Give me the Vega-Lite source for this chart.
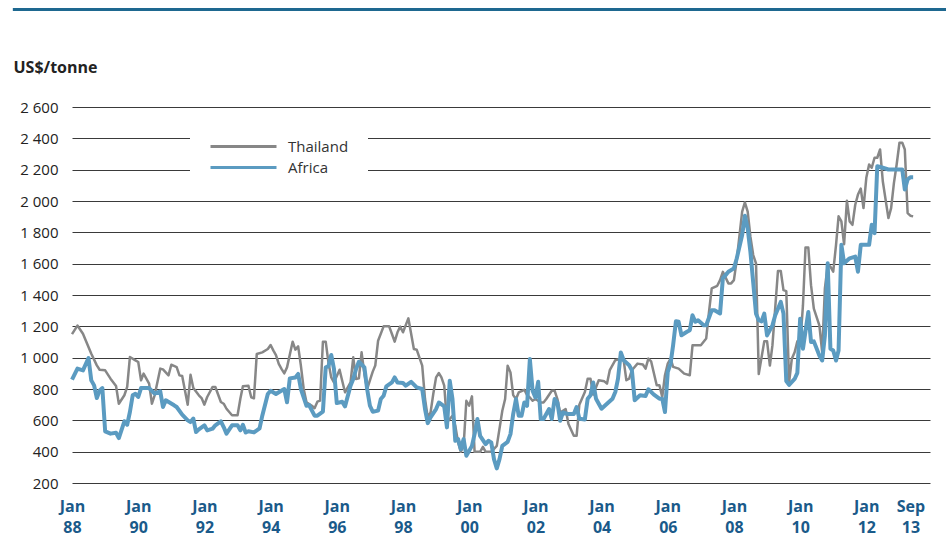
{
 "$schema": "https://vega.github.io/schema/vega-lite/v6.json",
 "width": 858,
 "height": 376,
 "autosize": {"type": "none"},
 "padding": {"left": 72, "top": 107, "right": 16, "bottom": 58},
 "background": "white",
 "config": {"view": {"stroke": null}, "font": "Open Sans"},
 "data": {"values": [
{"d":"1988-01","s":"Thailand","v":1150},{"d":"1988-03","s":"Thailand","v":1205},{"d":"1988-05","s":"Thailand","v":1153},{"d":"1988-06","s":"Thailand","v":1110},{"d":"1988-08","s":"Thailand","v":1025},{"d":"1988-10","s":"Thailand","v":951},{"d":"1988-11","s":"Thailand","v":923},
{"d":"1989-01","s":"Thailand","v":919},{"d":"1989-03","s":"Thailand","v":866},{"d":"1989-05","s":"Thailand","v":819},{"d":"1989-06","s":"Thailand","v":706},{"d":"1989-08","s":"Thailand","v":760},{"d":"1989-09","s":"Thailand","v":813},{"d":"1989-10","s":"Thailand","v":1004},{"d":"1989-12","s":"Thailand","v":983},
{"d":"1990-01","s":"Thailand","v":972},{"d":"1990-02","s":"Thailand","v":855},{"d":"1990-03","s":"Thailand","v":898},{"d":"1990-05","s":"Thailand","v":834},{"d":"1990-06","s":"Thailand","v":706},{"d":"1990-07","s":"Thailand","v":760},{"d":"1990-09","s":"Thailand","v":930},{"d":"1990-10","s":"Thailand","v":925},{"d":"1990-12","s":"Thailand","v":887},
{"d":"1991-01","s":"Thailand","v":955},{"d":"1991-03","s":"Thailand","v":940},{"d":"1991-04","s":"Thailand","v":887},{"d":"1991-05","s":"Thailand","v":883},{"d":"1991-07","s":"Thailand","v":700},{"d":"1991-08","s":"Thailand","v":891},{"d":"1991-09","s":"Thailand","v":806},{"d":"1991-11","s":"Thailand","v":760},{"d":"1991-12","s":"Thailand","v":742},
{"d":"1992-01","s":"Thailand","v":700},{"d":"1992-02","s":"Thailand","v":749},{"d":"1992-04","s":"Thailand","v":813},{"d":"1992-05","s":"Thailand","v":813},{"d":"1992-07","s":"Thailand","v":717},{"d":"1992-08","s":"Thailand","v":706},{"d":"1992-09","s":"Thailand","v":674},{"d":"1992-11","s":"Thailand","v":632},
{"d":"1993-01","s":"Thailand","v":632},{"d":"1993-02","s":"Thailand","v":738},{"d":"1993-03","s":"Thailand","v":817},{"d":"1993-05","s":"Thailand","v":821},{"d":"1993-06","s":"Thailand","v":747},{"d":"1993-07","s":"Thailand","v":740},{"d":"1993-08","s":"Thailand","v":1023},{"d":"1993-10","s":"Thailand","v":1034},{"d":"1993-12","s":"Thailand","v":1055},
{"d":"1994-01","s":"Thailand","v":1081},{"d":"1994-02","s":"Thailand","v":1045},{"d":"1994-03","s":"Thailand","v":1017},{"d":"1994-04","s":"Thailand","v":960},{"d":"1994-05","s":"Thailand","v":928},{"d":"1994-06","s":"Thailand","v":900},{"d":"1994-07","s":"Thailand","v":938},{"d":"1994-09","s":"Thailand","v":1102},{"d":"1994-10","s":"Thailand","v":1051},{"d":"1994-11","s":"Thailand","v":1072},{"d":"1994-12","s":"Thailand","v":949},
{"d":"1995-01","s":"Thailand","v":800},{"d":"1995-02","s":"Thailand","v":715},{"d":"1995-04","s":"Thailand","v":693},{"d":"1995-05","s":"Thailand","v":677},{"d":"1995-06","s":"Thailand","v":719},{"d":"1995-07","s":"Thailand","v":726},{"d":"1995-08","s":"Thailand","v":1102},{"d":"1995-09","s":"Thailand","v":1102},{"d":"1995-10","s":"Thailand","v":970},{"d":"1995-11","s":"Thailand","v":874},{"d":"1995-12","s":"Thailand","v":842},
{"d":"1996-02","s":"Thailand","v":923},{"d":"1996-03","s":"Thailand","v":853},{"d":"1996-04","s":"Thailand","v":779},{"d":"1996-06","s":"Thailand","v":842},{"d":"1996-07","s":"Thailand","v":1002},{"d":"1996-08","s":"Thailand","v":864},{"d":"1996-09","s":"Thailand","v":868},{"d":"1996-10","s":"Thailand","v":1034},{"d":"1996-11","s":"Thailand","v":896},{"d":"1996-12","s":"Thailand","v":800},
{"d":"1997-02","s":"Thailand","v":911},{"d":"1997-03","s":"Thailand","v":950},{"d":"1997-04","s":"Thailand","v":1108},{"d":"1997-06","s":"Thailand","v":1200},{"d":"1997-08","s":"Thailand","v":1200},{"d":"1997-09","s":"Thailand","v":1151},{"d":"1997-10","s":"Thailand","v":1102},{"d":"1997-11","s":"Thailand","v":1162},{"d":"1997-12","s":"Thailand","v":1198},
{"d":"1998-01","s":"Thailand","v":1162},{"d":"1998-03","s":"Thailand","v":1251},{"d":"1998-05","s":"Thailand","v":1055},{"d":"1998-06","s":"Thailand","v":1051},{"d":"1998-08","s":"Thailand","v":949},{"d":"1998-09","s":"Thailand","v":736},{"d":"1998-10","s":"Thailand","v":619},{"d":"1998-11","s":"Thailand","v":650},{"d":"1998-12","s":"Thailand","v":768},
{"d":"1999-01","s":"Thailand","v":874},{"d":"1999-02","s":"Thailand","v":902},{"d":"1999-03","s":"Thailand","v":874},{"d":"1999-04","s":"Thailand","v":821},{"d":"1999-05","s":"Thailand","v":587},{"d":"1999-07","s":"Thailand","v":629},{"d":"1999-08","s":"Thailand","v":565},{"d":"1999-09","s":"Thailand","v":459},{"d":"1999-10","s":"Thailand","v":399},{"d":"1999-11","s":"Thailand","v":437},{"d":"1999-12","s":"Thailand","v":725},
{"d":"2000-01","s":"Thailand","v":693},{"d":"2000-02","s":"Thailand","v":753},{"d":"2000-03","s":"Thailand","v":399},{"d":"2000-05","s":"Thailand","v":399},{"d":"2000-06","s":"Thailand","v":431},{"d":"2000-07","s":"Thailand","v":399},{"d":"2000-09","s":"Thailand","v":399},{"d":"2000-11","s":"Thailand","v":437},
{"d":"2001-01","s":"Thailand","v":661},{"d":"2001-02","s":"Thailand","v":736},{"d":"2001-03","s":"Thailand","v":949},{"d":"2001-04","s":"Thailand","v":906},{"d":"2001-05","s":"Thailand","v":761},{"d":"2001-06","s":"Thailand","v":736},{"d":"2001-07","s":"Thailand","v":778},{"d":"2001-09","s":"Thailand","v":795},{"d":"2001-10","s":"Thailand","v":761},{"d":"2001-11","s":"Thailand","v":746},{"d":"2001-12","s":"Thailand","v":725},
{"d":"2002-01","s":"Thailand","v":736},{"d":"2002-03","s":"Thailand","v":714},{"d":"2002-04","s":"Thailand","v":714},{"d":"2002-05","s":"Thailand","v":736},{"d":"2002-07","s":"Thailand","v":789},{"d":"2002-08","s":"Thailand","v":789},{"d":"2002-09","s":"Thailand","v":736},{"d":"2002-10","s":"Thailand","v":650},{"d":"2002-12","s":"Thailand","v":672},
{"d":"2003-01","s":"Thailand","v":576},{"d":"2003-03","s":"Thailand","v":501},{"d":"2003-04","s":"Thailand","v":501},{"d":"2003-05","s":"Thailand","v":700},{"d":"2003-07","s":"Thailand","v":781},{"d":"2003-08","s":"Thailand","v":866},{"d":"2003-09","s":"Thailand","v":866},{"d":"2003-10","s":"Thailand","v":764},{"d":"2003-12","s":"Thailand","v":856},
{"d":"2004-02","s":"Thailand","v":849},{"d":"2004-03","s":"Thailand","v":834},{"d":"2004-04","s":"Thailand","v":920},{"d":"2004-06","s":"Thailand","v":984},{"d":"2004-08","s":"Thailand","v":994},{"d":"2004-09","s":"Thailand","v":984},{"d":"2004-10","s":"Thailand","v":856},{"d":"2004-11","s":"Thailand","v":866},{"d":"2004-12","s":"Thailand","v":920},
{"d":"2005-02","s":"Thailand","v":962},{"d":"2005-04","s":"Thailand","v":956},{"d":"2005-05","s":"Thailand","v":930},{"d":"2005-06","s":"Thailand","v":994},{"d":"2005-07","s":"Thailand","v":977},{"d":"2005-09","s":"Thailand","v":824},{"d":"2005-10","s":"Thailand","v":824},{"d":"2005-11","s":"Thailand","v":749},{"d":"2005-12","s":"Thailand","v":888},
{"d":"2006-01","s":"Thailand","v":962},{"d":"2006-02","s":"Thailand","v":994},{"d":"2006-03","s":"Thailand","v":941},{"d":"2006-05","s":"Thailand","v":930},{"d":"2006-07","s":"Thailand","v":898},{"d":"2006-09","s":"Thailand","v":888},{"d":"2006-10","s":"Thailand","v":1079},
{"d":"2007-01","s":"Thailand","v":1079},{"d":"2007-03","s":"Thailand","v":1122},{"d":"2007-04","s":"Thailand","v":1292},{"d":"2007-05","s":"Thailand","v":1442},{"d":"2007-07","s":"Thailand","v":1459},{"d":"2007-08","s":"Thailand","v":1495},{"d":"2007-09","s":"Thailand","v":1548},{"d":"2007-11","s":"Thailand","v":1474},{"d":"2007-12","s":"Thailand","v":1474},
{"d":"2008-01","s":"Thailand","v":1495},{"d":"2008-02","s":"Thailand","v":1623},{"d":"2008-04","s":"Thailand","v":1932},{"d":"2008-05","s":"Thailand","v":1991},{"d":"2008-06","s":"Thailand","v":1932},{"d":"2008-07","s":"Thailand","v":1772},{"d":"2008-08","s":"Thailand","v":1655},{"d":"2008-09","s":"Thailand","v":1602},{"d":"2008-10","s":"Thailand","v":896},{"d":"2008-12","s":"Thailand","v":1104},
{"d":"2009-01","s":"Thailand","v":1104},{"d":"2009-02","s":"Thailand","v":950},{"d":"2009-03","s":"Thailand","v":1078},{"d":"2009-05","s":"Thailand","v":1553},{"d":"2009-06","s":"Thailand","v":1553},{"d":"2009-07","s":"Thailand","v":1431},{"d":"2009-08","s":"Thailand","v":1425},{"d":"2009-09","s":"Thailand","v":843},{"d":"2009-10","s":"Thailand","v":993},{"d":"2009-11","s":"Thailand","v":1035},{"d":"2009-12","s":"Thailand","v":1104},
{"d":"2010-01","s":"Thailand","v":1078},{"d":"2010-02","s":"Thailand","v":1335},{"d":"2010-03","s":"Thailand","v":1703},{"d":"2010-04","s":"Thailand","v":1703},{"d":"2010-05","s":"Thailand","v":1463},{"d":"2010-06","s":"Thailand","v":1313},{"d":"2010-08","s":"Thailand","v":1206},{"d":"2010-09","s":"Thailand","v":1035},{"d":"2010-10","s":"Thailand","v":1442},{"d":"2010-11","s":"Thailand","v":1591},{"d":"2010-12","s":"Thailand","v":1581},
{"d":"2011-01","s":"Thailand","v":1549},{"d":"2011-02","s":"Thailand","v":1720},{"d":"2011-03","s":"Thailand","v":1902},{"d":"2011-04","s":"Thailand","v":1870},{"d":"2011-05","s":"Thailand","v":1724},{"d":"2011-06","s":"Thailand","v":2002},{"d":"2011-07","s":"Thailand","v":1870},{"d":"2011-08","s":"Thailand","v":1848},{"d":"2011-09","s":"Thailand","v":1976},{"d":"2011-10","s":"Thailand","v":2041},{"d":"2011-11","s":"Thailand","v":2079},{"d":"2011-12","s":"Thailand","v":1955},
{"d":"2012-01","s":"Thailand","v":2148},{"d":"2012-02","s":"Thailand","v":2233},{"d":"2012-03","s":"Thailand","v":2212},{"d":"2012-04","s":"Thailand","v":2276},{"d":"2012-05","s":"Thailand","v":2276},{"d":"2012-06","s":"Thailand","v":2329},{"d":"2012-07","s":"Thailand","v":2126},{"d":"2012-09","s":"Thailand","v":1891},{"d":"2012-10","s":"Thailand","v":1955},{"d":"2012-11","s":"Thailand","v":2116},{"d":"2012-12","s":"Thailand","v":2233},
{"d":"2013-01","s":"Thailand","v":2372},{"d":"2013-02","s":"Thailand","v":2372},{"d":"2013-03","s":"Thailand","v":2329},{"d":"2013-04","s":"Thailand","v":1923},{"d":"2013-05","s":"Thailand","v":1906},{"d":"2013-06","s":"Thailand","v":1902},
{"d":"1988-01","s":"Africa","v":860},{"d":"1988-03","s":"Africa","v":930},{"d":"1988-05","s":"Africa","v":919},{"d":"1988-07","s":"Africa","v":998},{"d":"1988-08","s":"Africa","v":855},{"d":"1988-09","s":"Africa","v":823},{"d":"1988-10","s":"Africa","v":742},{"d":"1988-11","s":"Africa","v":791},{"d":"1988-12","s":"Africa","v":806},
{"d":"1989-01","s":"Africa","v":530},{"d":"1989-03","s":"Africa","v":515},{"d":"1989-05","s":"Africa","v":521},{"d":"1989-06","s":"Africa","v":487},{"d":"1989-08","s":"Africa","v":594},{"d":"1989-09","s":"Africa","v":572},{"d":"1989-10","s":"Africa","v":653},{"d":"1989-11","s":"Africa","v":760},{"d":"1989-12","s":"Africa","v":770},
{"d":"1990-01","s":"Africa","v":749},{"d":"1990-02","s":"Africa","v":806},{"d":"1990-05","s":"Africa","v":806},{"d":"1990-07","s":"Africa","v":770},{"d":"1990-09","s":"Africa","v":785},{"d":"1990-10","s":"Africa","v":685},{"d":"1990-11","s":"Africa","v":728},
{"d":"1991-02","s":"Africa","v":696},{"d":"1991-03","s":"Africa","v":685},{"d":"1991-05","s":"Africa","v":636},{"d":"1991-07","s":"Africa","v":600},{"d":"1991-08","s":"Africa","v":589},{"d":"1991-09","s":"Africa","v":611},{"d":"1991-10","s":"Africa","v":525},{"d":"1991-11","s":"Africa","v":542},
{"d":"1992-01","s":"Africa","v":568},{"d":"1992-02","s":"Africa","v":536},{"d":"1992-04","s":"Africa","v":547},{"d":"1992-05","s":"Africa","v":568},{"d":"1992-07","s":"Africa","v":594},{"d":"1992-08","s":"Africa","v":557},{"d":"1992-09","s":"Africa","v":515},{"d":"1992-11","s":"Africa","v":568},
{"d":"1993-01","s":"Africa","v":568},{"d":"1993-02","s":"Africa","v":536},{"d":"1993-03","s":"Africa","v":572},{"d":"1993-04","s":"Africa","v":522},{"d":"1993-05","s":"Africa","v":530},{"d":"1993-07","s":"Africa","v":523},{"d":"1993-09","s":"Africa","v":549},{"d":"1993-10","s":"Africa","v":630},{"d":"1993-12","s":"Africa","v":768},
{"d":"1994-01","s":"Africa","v":789},{"d":"1994-03","s":"Africa","v":768},{"d":"1994-04","s":"Africa","v":779},{"d":"1994-06","s":"Africa","v":800},{"d":"1994-07","s":"Africa","v":715},{"d":"1994-08","s":"Africa","v":868},{"d":"1994-10","s":"Africa","v":874},{"d":"1994-11","s":"Africa","v":896},{"d":"1994-12","s":"Africa","v":800},
{"d":"1995-02","s":"Africa","v":693},{"d":"1995-03","s":"Africa","v":698},{"d":"1995-05","s":"Africa","v":630},{"d":"1995-06","s":"Africa","v":630},{"d":"1995-08","s":"Africa","v":655},{"d":"1995-09","s":"Africa","v":938},{"d":"1995-10","s":"Africa","v":945},{"d":"1995-11","s":"Africa","v":1017},{"d":"1995-12","s":"Africa","v":928},
{"d":"1996-01","s":"Africa","v":710},{"d":"1996-03","s":"Africa","v":719},{"d":"1996-04","s":"Africa","v":689},{"d":"1996-06","s":"Africa","v":821},{"d":"1996-07","s":"Africa","v":864},{"d":"1996-08","s":"Africa","v":928},{"d":"1996-09","s":"Africa","v":974},{"d":"1996-11","s":"Africa","v":938},{"d":"1996-12","s":"Africa","v":800},
{"d":"1997-01","s":"Africa","v":693},{"d":"1997-02","s":"Africa","v":655},{"d":"1997-04","s":"Africa","v":662},{"d":"1997-05","s":"Africa","v":736},{"d":"1997-06","s":"Africa","v":757},{"d":"1997-07","s":"Africa","v":817},{"d":"1997-09","s":"Africa","v":842},{"d":"1997-10","s":"Africa","v":874},{"d":"1997-11","s":"Africa","v":842},
{"d":"1998-01","s":"Africa","v":838},{"d":"1998-02","s":"Africa","v":821},{"d":"1998-04","s":"Africa","v":846},{"d":"1998-06","s":"Africa","v":810},{"d":"1998-08","s":"Africa","v":800},{"d":"1998-09","s":"Africa","v":672},{"d":"1998-10","s":"Africa","v":582},{"d":"1998-11","s":"Africa","v":619},
{"d":"1999-01","s":"Africa","v":672},{"d":"1999-02","s":"Africa","v":714},{"d":"1999-04","s":"Africa","v":689},{"d":"1999-05","s":"Africa","v":555},{"d":"1999-06","s":"Africa","v":853},{"d":"1999-07","s":"Africa","v":736},{"d":"1999-08","s":"Africa","v":469},{"d":"1999-09","s":"Africa","v":480},{"d":"1999-10","s":"Africa","v":416},{"d":"1999-11","s":"Africa","v":480},{"d":"1999-12","s":"Africa","v":374},
{"d":"2000-02","s":"Africa","v":437},{"d":"2000-03","s":"Africa","v":512},{"d":"2000-04","s":"Africa","v":608},{"d":"2000-05","s":"Africa","v":501},{"d":"2000-07","s":"Africa","v":448},{"d":"2000-08","s":"Africa","v":469},{"d":"2000-09","s":"Africa","v":459},{"d":"2000-10","s":"Africa","v":352},{"d":"2000-11","s":"Africa","v":293},{"d":"2000-12","s":"Africa","v":352},
{"d":"2001-01","s":"Africa","v":437},{"d":"2001-03","s":"Africa","v":463},{"d":"2001-04","s":"Africa","v":512},{"d":"2001-05","s":"Africa","v":640},{"d":"2001-06","s":"Africa","v":736},{"d":"2001-07","s":"Africa","v":629},{"d":"2001-08","s":"Africa","v":629},{"d":"2001-09","s":"Africa","v":714},{"d":"2001-10","s":"Africa","v":693},{"d":"2001-11","s":"Africa","v":991},{"d":"2001-12","s":"Africa","v":789},
{"d":"2002-01","s":"Africa","v":746},{"d":"2002-02","s":"Africa","v":846},{"d":"2002-03","s":"Africa","v":608},{"d":"2002-04","s":"Africa","v":608},{"d":"2002-06","s":"Africa","v":672},{"d":"2002-07","s":"Africa","v":608},{"d":"2002-08","s":"Africa","v":736},{"d":"2002-09","s":"Africa","v":714},{"d":"2002-10","s":"Africa","v":597},{"d":"2002-11","s":"Africa","v":650},
{"d":"2003-01","s":"Africa","v":640},{"d":"2003-03","s":"Africa","v":640},{"d":"2003-04","s":"Africa","v":685},{"d":"2003-05","s":"Africa","v":610},{"d":"2003-07","s":"Africa","v":606},{"d":"2003-08","s":"Africa","v":738},{"d":"2003-09","s":"Africa","v":760},{"d":"2003-10","s":"Africa","v":841},{"d":"2003-11","s":"Africa","v":738},
{"d":"2004-01","s":"Africa","v":674},{"d":"2004-03","s":"Africa","v":706},{"d":"2004-05","s":"Africa","v":738},{"d":"2004-06","s":"Africa","v":781},{"d":"2004-07","s":"Africa","v":866},{"d":"2004-08","s":"Africa","v":1033},{"d":"2004-09","s":"Africa","v":984},{"d":"2004-11","s":"Africa","v":952},{"d":"2004-12","s":"Africa","v":920},
{"d":"2005-01","s":"Africa","v":728},{"d":"2005-03","s":"Africa","v":760},{"d":"2005-05","s":"Africa","v":755},{"d":"2005-06","s":"Africa","v":798},{"d":"2005-08","s":"Africa","v":764},{"d":"2005-10","s":"Africa","v":738},{"d":"2005-11","s":"Africa","v":738},{"d":"2005-12","s":"Africa","v":653},
{"d":"2006-01","s":"Africa","v":909},{"d":"2006-02","s":"Africa","v":962},{"d":"2006-03","s":"Africa","v":1079},{"d":"2006-04","s":"Africa","v":1233},{"d":"2006-05","s":"Africa","v":1229},{"d":"2006-06","s":"Africa","v":1143},{"d":"2006-08","s":"Africa","v":1165},{"d":"2006-09","s":"Africa","v":1175},{"d":"2006-10","s":"Africa","v":1271},{"d":"2006-11","s":"Africa","v":1229},{"d":"2006-12","s":"Africa","v":1239},
{"d":"2007-02","s":"Africa","v":1207},{"d":"2007-03","s":"Africa","v":1207},{"d":"2007-05","s":"Africa","v":1303},{"d":"2007-06","s":"Africa","v":1303},{"d":"2007-08","s":"Africa","v":1282},{"d":"2007-09","s":"Africa","v":1506},{"d":"2007-10","s":"Africa","v":1527},{"d":"2007-11","s":"Africa","v":1548},
{"d":"2008-01","s":"Africa","v":1570},{"d":"2008-02","s":"Africa","v":1633},{"d":"2008-04","s":"Africa","v":1783},{"d":"2008-05","s":"Africa","v":1906},{"d":"2008-06","s":"Africa","v":1825},{"d":"2008-07","s":"Africa","v":1676},{"d":"2008-08","s":"Africa","v":1480},{"d":"2008-09","s":"Africa","v":1280},{"d":"2008-10","s":"Africa","v":1239},{"d":"2008-11","s":"Africa","v":1232},{"d":"2008-12","s":"Africa","v":1281},
{"d":"2009-01","s":"Africa","v":1142},{"d":"2009-03","s":"Africa","v":1206},{"d":"2009-04","s":"Africa","v":1271},{"d":"2009-06","s":"Africa","v":1356},{"d":"2009-07","s":"Africa","v":1281},{"d":"2009-08","s":"Africa","v":850},{"d":"2009-09","s":"Africa","v":826},{"d":"2009-11","s":"Africa","v":864},{"d":"2009-12","s":"Africa","v":903},
{"d":"2010-01","s":"Africa","v":1249},{"d":"2010-02","s":"Africa","v":1057},{"d":"2010-04","s":"Africa","v":1292},{"d":"2010-05","s":"Africa","v":1100},{"d":"2010-06","s":"Africa","v":1104},{"d":"2010-08","s":"Africa","v":1014},{"d":"2010-09","s":"Africa","v":982},{"d":"2010-10","s":"Africa","v":1142},{"d":"2010-11","s":"Africa","v":1602},{"d":"2010-12","s":"Africa","v":1057},
{"d":"2011-01","s":"Africa","v":1046},{"d":"2011-02","s":"Africa","v":982},{"d":"2011-03","s":"Africa","v":1046},{"d":"2011-04","s":"Africa","v":1720},{"d":"2011-05","s":"Africa","v":1602},{"d":"2011-07","s":"Africa","v":1634},{"d":"2011-09","s":"Africa","v":1645},{"d":"2011-10","s":"Africa","v":1549},{"d":"2011-11","s":"Africa","v":1720},
{"d":"2012-01","s":"Africa","v":1720},{"d":"2012-02","s":"Africa","v":1720},{"d":"2012-03","s":"Africa","v":1848},{"d":"2012-04","s":"Africa","v":1795},{"d":"2012-05","s":"Africa","v":2222},{"d":"2012-07","s":"Africa","v":2212},{"d":"2012-09","s":"Africa","v":2201},{"d":"2012-11","s":"Africa","v":2201},
{"d":"2013-02","s":"Africa","v":2201},{"d":"2013-03","s":"Africa","v":2073},{"d":"2013-04","s":"Africa","v":2137},{"d":"2013-05","s":"Africa","v":2152},{"d":"2013-06","s":"Africa","v":2152}
 ]},
 "layer": [
  {"transform": [{"filter": "datum.s === 'Thailand'"}],
   "mark": {"type": "line", "strokeWidth": 2.5, "strokeJoin": "round"},
   "encoding": {
    "x": {"field": "d", "type": "temporal",
     "scale": {"type": "utc", "domain": [{"year": 1988, "month": 1, "date": 1, "utc": true}, {"year": 2013, "month": 12, "date": 4, "utc": true}]},
     "axis": {"title": null, "grid": false, "ticks": false, "domain": false,
      "values": [{"year":1988,"month":1,"date":1,"utc":true},{"year":1990,"month":1,"date":1,"utc":true},{"year":1992,"month":1,"date":1,"utc":true},{"year":1994,"month":1,"date":1,"utc":true},{"year":1996,"month":1,"date":1,"utc":true},{"year":1998,"month":1,"date":1,"utc":true},{"year":2000,"month":1,"date":1,"utc":true},{"year":2002,"month":1,"date":1,"utc":true},{"year":2004,"month":1,"date":1,"utc":true},{"year":2006,"month":1,"date":1,"utc":true},{"year":2008,"month":1,"date":1,"utc":true},{"year":2010,"month":1,"date":1,"utc":true},{"year":2012,"month":1,"date":1,"utc":true},{"year":2013,"month":9,"date":1,"utc":true}],
      "labelExpr": "[utcFormat(datum.value, '%b'), utcFormat(datum.value, '%y')]",
      "labelFont": "Liberation Sans Narrow, Open Sans", "labelFontWeight": "bold", "labelFontSize": 16,
      "labelColor": "#1a5a8a", "labelLineHeight": 21, "labelPadding": 15,
      "labelOffset": {"condition": {"test": "utcyear(datum.value) == 2013", "value": -11}, "value": 0},
      "labelOverlap": false, "labelFlush": false, "labelBound": false}},
    "y": {"field": "v", "type": "quantitative",
     "scale": {"domain": [200, 2600], "nice": false, "zero": false},
     "axis": {"values": [200,400,600,800,1000,1200,1400,1600,1800,2000,2200,2400,2600],
      "labelExpr": "replace(format(datum.value, ','), ',', ' ')", "labelOverlap": false,
      "labelFontSize": 15, "labelColor": "#222", "labelPadding": 14,
      "ticks": false, "domain": false, "grid": true, "gridColor": "#3a3a3a", "gridWidth": 1, "gridOpacity": 1,
      "title": "US$/tonne", "titleAngle": 0, "titleAlign": "left", "titleBaseline": "alphabetic",
      "titleX": -59, "titleY": -35, "titleFontSize": 16, "titleFontWeight": "bold", "titleColor": "#222"}},
    "color": {"field": "s", "type": "nominal",
     "scale": {"domain": ["Thailand", "Africa"], "range": ["#878787", "#5b9bc1"]},
     "legend": {"title": null, "orient": "none", "legendX": 118, "legendY": 8, "direction": "vertical",
      "fillColor": "white", "padding": 19, "symbolType": "M-1,0H5", "symbolSize": 484, "symbolStrokeWidth": 3,
      "labelOffset": 54, "labelFontSize": 15, "labelColor": "#333", "rowPadding": 0, "labelFont": "Open Sans"}}}},
  {"transform": [{"filter": "datum.s === 'Africa'"}],
   "mark": {"type": "line", "strokeWidth": 4, "strokeJoin": "round"},
   "encoding": {
    "x": {"field": "d", "type": "temporal"},
    "y": {"field": "v", "type": "quantitative",
     "axis": {"values": [200,400,600,800,1000,1200,1400,1600,1800,2000,2200,2400,2600],
      "labelExpr": "replace(format(datum.value, ','), ',', ' ')", "labelOverlap": false,
      "labelFontSize": 15, "labelColor": "#222", "labelPadding": 14,
      "ticks": false, "domain": false, "grid": true, "gridColor": "#3a3a3a", "gridWidth": 1, "gridOpacity": 1,
      "title": "US$/tonne", "titleAngle": 0, "titleAlign": "left", "titleBaseline": "alphabetic",
      "titleX": -59, "titleY": -35, "titleFontSize": 16, "titleFontWeight": "bold", "titleColor": "#222"}},
    "color": {"field": "s", "type": "nominal"}}},
  {"data": {"values": [{"k": 1}]},
   "mark": {"type": "rule", "color": "#1e6890", "strokeWidth": 3},
   "encoding": {
    "x": {"datum": {"year": 1986, "month": 3, "date": 19, "utc": true}, "type": "temporal"},
    "x2": {"datum": {"year": 2014, "month": 6, "date": 1, "utc": true}},
    "y": {"datum": 3222, "type": "quantitative",
     "axis": {"values": [200,400,600,800,1000,1200,1400,1600,1800,2000,2200,2400,2600],
      "labelExpr": "replace(format(datum.value, ','), ',', ' ')", "labelOverlap": false,
      "labelFontSize": 15, "labelColor": "#222", "labelPadding": 14,
      "ticks": false, "domain": false, "grid": true, "gridColor": "#3a3a3a", "gridWidth": 1, "gridOpacity": 1,
      "title": "US$/tonne", "titleAngle": 0, "titleAlign": "left", "titleBaseline": "alphabetic",
      "titleX": -59, "titleY": -35, "titleFontSize": 16, "titleFontWeight": "bold", "titleColor": "#222"}}}}
 ]
}
